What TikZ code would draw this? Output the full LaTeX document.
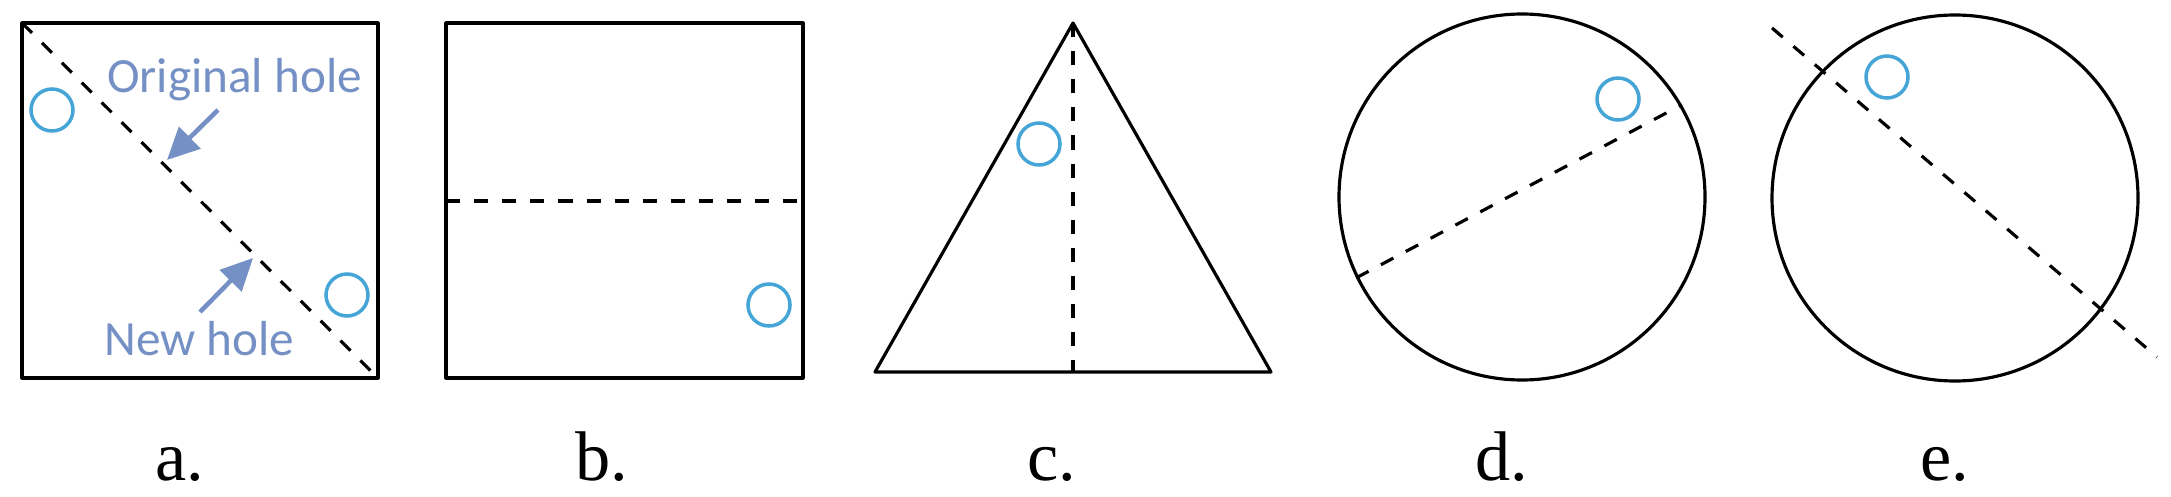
\documentclass[tikz,border=0pt]{standalone}
\usepackage{fontspec}
\setmainfont{Liberation Serif}
\newfontfamily\notefont{Carlito}
\usetikzlibrary{arrows.meta}
\definecolor{holeblue}{RGB}{70,165,215}
\definecolor{noteblue}{RGB}{116,144,196}
\begin{document}
\begin{tikzpicture}[
  edge/.style={line width=0.9pt, line join=round},
  fold/.style={line width=0.9pt, dash pattern=on 4pt off 4pt},
  hole/.style={draw=holeblue, line width=1pt},
  note/.style={text=noteblue, anchor=base, inner sep=0pt, font=\notefont\fontsize{14}{16}\selectfont},
  pointer/.style={draw=noteblue, fill=noteblue, line width=1.3pt, -{Triangle[length=0.32cm,width=0.3cm]}},
  tag/.style={anchor=base, inner sep=0pt, font=\fontsize{20}{24}\selectfont}]
  \useasboundingbox (0,0) rectangle (21.71,4.96);
  % a.
  \draw[edge] (0.22,1.18) rectangle (3.78,4.73);
  \draw[fold] (0.22,4.73) -- (3.78,1.18);
  \draw[hole] (0.52,3.86) circle (.21) (3.47,2.01) circle (.21);
  \node[note] (orig) at (2.345,4.03) {Original hole};
  \node[note] (new) at (1.995,1.41) {New hole};
  \coordinate (orig from) at (2.18,3.86);
  \coordinate (orig to) at (1.67,3.36);
  \coordinate (new from) at (2.00,1.84);
  \coordinate (new to) at (2.53,2.38);
  \draw[pointer] (orig from) -- (orig to);
  \draw[pointer] (new from) -- (new to);
  % b.
  \draw[edge] (4.46,1.18) rectangle (8.03,4.73);
  \draw[fold] (4.46,2.95) -- (8.03,2.95);
  \draw[hole] (7.69,1.91) circle (.21);
  % c.
  \coordinate (c top) at (10.73,4.73);
  \coordinate (c left) at (8.75,1.24);
  \coordinate (c right) at (12.71,1.24);
  \coordinate (c foot) at (10.73,1.24);
  \draw[edge] (c left) -- (c top) -- (c right) -- cycle;
  \draw[fold] (c top) -- (c foot);
  \draw[hole] (10.39,3.52) circle (.21);
  % d.
  \node[draw, circle, edge, minimum size=3.66cm, inner sep=0pt] (d) at (15.22,2.99) {};
  \draw[fold] (d.206) -- (d.30);
  \draw[hole] (16.18,3.97) circle (.21);
  % e.
  \node[draw, circle, edge, minimum size=3.66cm, inner sep=0pt] (e) at (19.55,2.98) {};
  \draw[fold] (17.72,4.68) -- (21.57,1.39);
  \draw[hole] (18.87,4.19) circle (.21);
  % labels
  \node[tag] (la) at (1.80,0.16) {a.};
  \node[tag] (lb) at (6.02,0.16) {b.};
  \node[tag] (lc) at (10.52,0.16) {c.};
  \node[tag] (ld) at (15.02,0.16) {d.};
  \node[tag] (le) at (19.45,0.16) {e.};
\end{tikzpicture}
\end{document}
